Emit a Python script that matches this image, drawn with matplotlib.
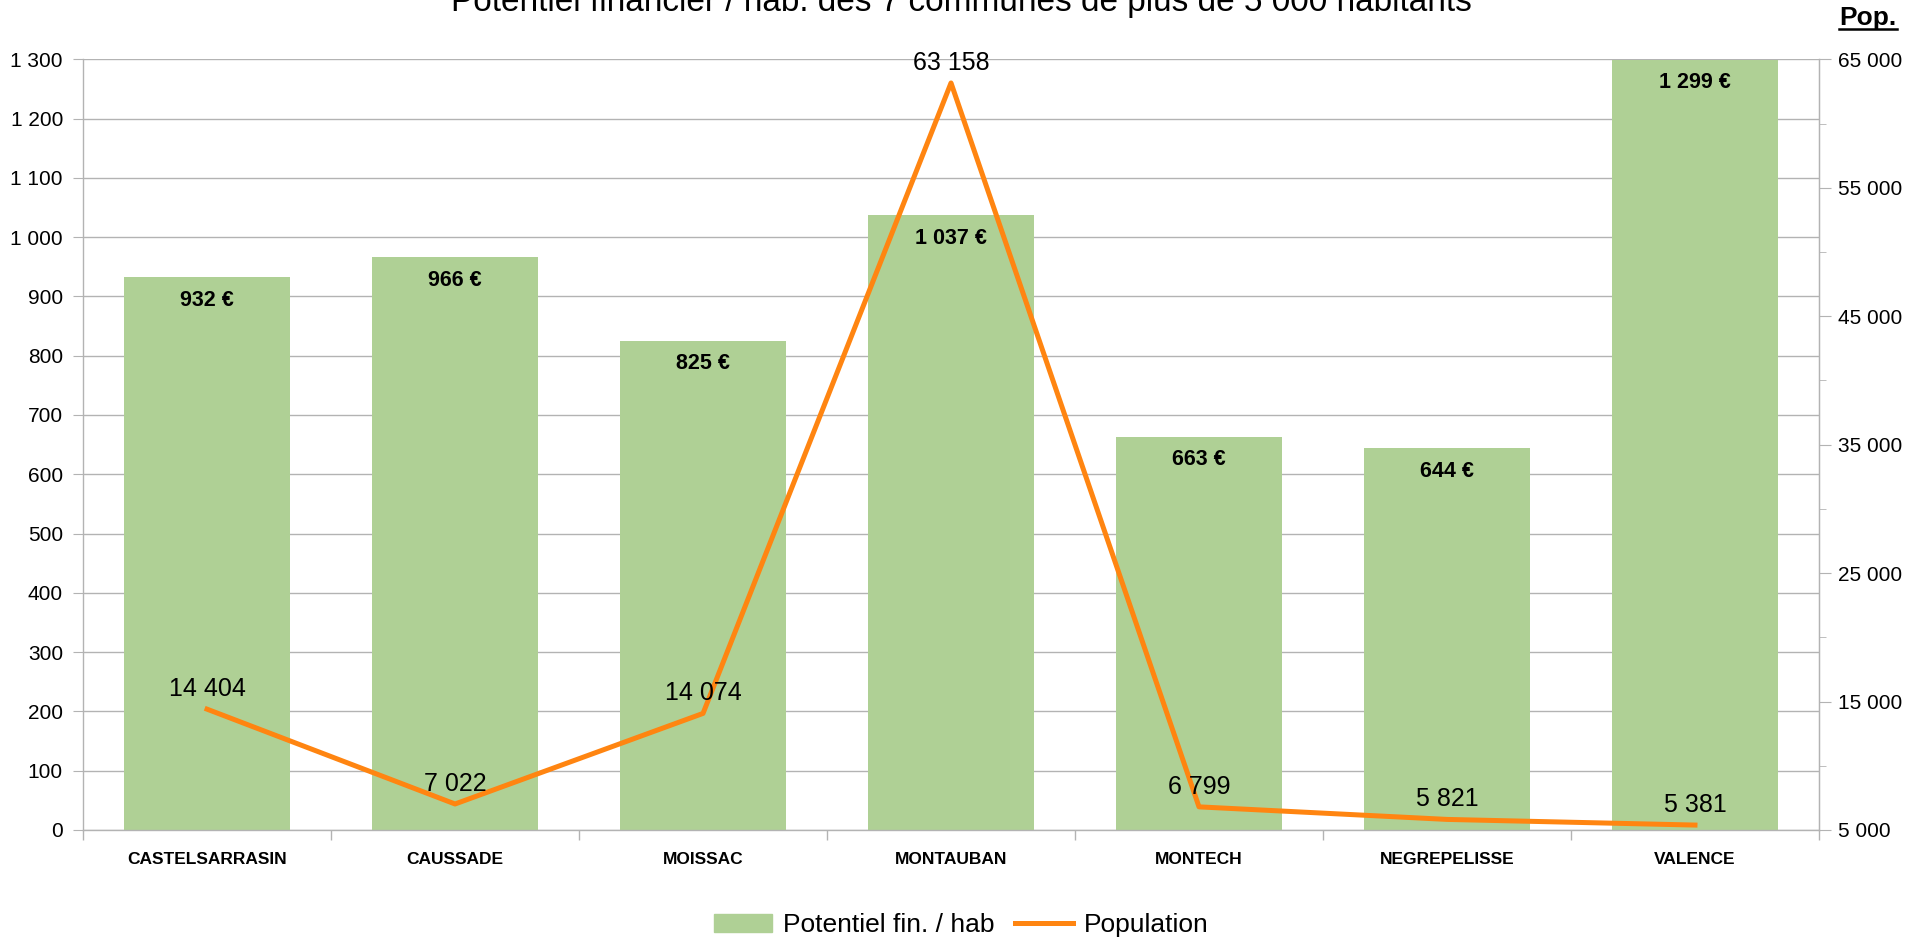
import matplotlib
matplotlib.use("Agg")
import matplotlib.pyplot as plt
from matplotlib.ticker import FixedLocator, FuncFormatter
from matplotlib.lines import Line2D
import numpy as np

plt.rcParams['font.family'] = ['Liberation Sans', 'DejaVu Sans']

communes = ["CASTELSARRASIN", "CAUSSADE", "MOISSAC", "MONTAUBAN",
            "MONTECH", "NEGREPELISSE", "VALENCE"]
potentiel = [932, 966, 825, 1037, 663, 644, 1299]
population = [14404, 7022, 14074, 63158, 6799, 5821, 5381]

title = "Potentiel financier / hab. des 7 communes de plus de 5 000 habitants"

bar_color = "#AFD095"
line_color = "#FF8511"
grid_color = "#B3B3B3"


def fr_thousands(v, pos=None):
    return f"{int(round(v)):,}".replace(",", " ")


fig = plt.figure(figsize=(19.23, 9.41), dpi=100)
ax = fig.add_axes([0.0432, 0.118, 0.9027, 0.819])
x = np.arange(len(communes))

ax.bar(x, potentiel, width=0.67, color=bar_color, zorder=2)
ax.set_xlim(-0.5, len(communes) - 0.5)
ax.set_ylim(0, 1300)
ax.yaxis.set_major_locator(FixedLocator(np.arange(0, 1301, 100)))
ax.yaxis.set_major_formatter(FuncFormatter(fr_thousands))
ax.grid(axis='y', color=grid_color, linewidth=1, zorder=0)
ax.set_axisbelow(True)

ax.set_xticks(x)
ax.set_xticklabels(communes, fontsize=12.5, fontweight='bold')
ax.tick_params(axis='x', length=0, pad=16)
ax.set_xticks(np.arange(-0.5, len(communes), 1), minor=True)
ax.tick_params(axis='x', which='minor', length=7.5, color=grid_color, width=1)
ax.tick_params(axis='y', labelsize=15, length=7.5, color=grid_color, pad=7)

ax.spines['top'].set_visible(False)
for s in ['left', 'bottom', 'right']:
    ax.spines[s].set_color(grid_color)
    ax.spines[s].set_linewidth(1)

for xi, v in zip(x, potentiel):
    ax.annotate(f"{fr_thousands(v)} €", (xi, v), xytext=(0, -16.5),
                textcoords='offset points', ha='center', va='center',
                fontsize=15.5, fontweight='bold', zorder=5)

ax2 = ax.twinx()
ax2.set_ylim(5000, 65000)
ax2.plot(x, population, color=line_color, linewidth=3.6, zorder=4)
ax2.yaxis.set_major_locator(FixedLocator(np.arange(5000, 65001, 10000)))
ax2.yaxis.set_minor_locator(FixedLocator(np.arange(10000, 65000, 10000)))
ax2.yaxis.set_major_formatter(FuncFormatter(fr_thousands))
ax2.tick_params(axis='y', which='major', labelsize=15, length=8.6,
                color=grid_color, pad=5)
ax2.tick_params(axis='y', which='minor', length=5, color=grid_color)
for s in ['top', 'left', 'bottom']:
    ax2.spines[s].set_visible(False)
ax2.spines['right'].set_color(grid_color)

for xi, v in zip(x, population):
    ax2.annotate(fr_thousands(v), (xi, v), xytext=(0, 14.5),
                 textcoords='offset points', ha='center', va='center',
                 fontsize=18, zorder=5)

fig.text(0.5, 1 - 11 / 941, title, ha='center', va='baseline', fontsize=24)

pop_txt = fig.text(1868 / 1923, 1 - 18 / 941, "Pop.", ha='center',
                   va='center', fontsize=19, fontweight='bold')
fig.canvas.draw()
bb = pop_txt.get_window_extent(fig.canvas.get_renderer())
fig_w, fig_h = fig.bbox.width, fig.bbox.height
uy = 1 - 29 / 941
fig.add_artist(Line2D([bb.x0 / fig_w, bb.x1 / fig_w], [uy, uy],
                      color='black', linewidth=1.8, transform=fig.transFigure))

handles = [plt.Rectangle((0, 0), 1, 1, color=bar_color),
           Line2D([0], [0], color=line_color, linewidth=3.6)]
fig.legend(handles, ["Potentiel fin. / hab", "Population"],
           loc='center', bbox_to_anchor=(0.5, 1 - 925 / 941), ncol=2,
           frameon=False, fontsize=19, handlelength=2.2, handleheight=0.65,
           columnspacing=0.8, handletextpad=0.4)

fig.savefig("out.png", dpi=100)
